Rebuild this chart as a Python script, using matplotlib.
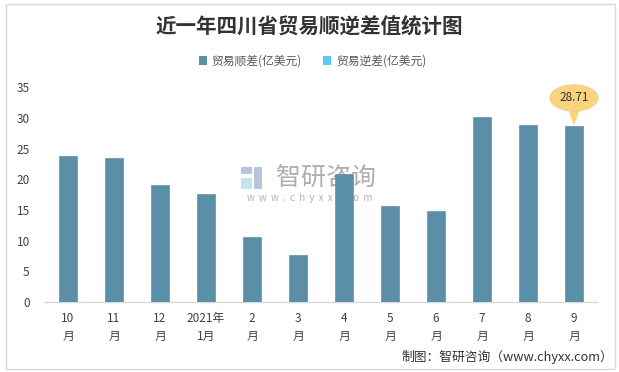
import matplotlib
matplotlib.use("Agg")
import matplotlib.pyplot as plt
from matplotlib.patches import Patch, Ellipse, Polygon, Rectangle

plt.rcParams['font.family'] = ['Noto Sans CJK SC', 'DejaVu Sans']

# data
months = ["10\n月", "11\n月", "12\n月", "2021年\n1月", "2\n月", "3\n月",
          "4\n月", "5\n月", "6\n月", "7\n月", "8\n月", "9\n月"]
surplus = [23.8, 23.5, 19.1, 17.6, 10.6, 7.7, 20.9, 15.7, 14.8, 30.2, 28.9, 28.71]
yticks = [0, 5, 10, 15, 20, 25, 30, 35]

bar_color = "#5B8FA8"
deficit_color = "#5DC9F5"

fig = plt.figure(figsize=(6.19, 3.72), dpi=100)
ax = fig.add_axes([0.0727, 0.188, 0.8918, 0.577])
ax.set_zorder(2)
ax.patch.set_alpha(0)

x = list(range(len(months)))
ax.bar(x, surplus, width=0.4, color=bar_color, edgecolor="#52849c",
       linewidth=0.4, zorder=3)

ax.set_xlim(-0.5, len(months) - 0.5)
ax.set_ylim(0, 35)
ax.set_yticks(yticks)
ax.set_xticks(x)
ax.set_xticklabels(months, linespacing=1.5)
ax.tick_params(axis="both", length=0, labelsize=8.5, colors="#404040")
ax.tick_params(axis="x", pad=7)
ax.tick_params(axis="y", pad=11)
for s in ["top", "right", "left"]:
    ax.spines[s].set_visible(False)
ax.spines["bottom"].set_color("#d9d9d9")
ax.spines["bottom"].set_linewidth(1)

# callout on the last bar
last = len(surplus) - 1
v = surplus[last]
ax.add_patch(Polygon([(last - 0.12, v + 2.6), (last + 0.12, v + 2.6), (last, v + 0.05)],
                     closed=True, facecolor="#F8D47E", edgecolor="none",
                     zorder=4, clip_on=False))
ax.add_patch(Ellipse((last, v + 4.57), 1.05, 4.3, facecolor="#F8D47E",
                     edgecolor="#f0c870", linewidth=0.5, zorder=4, clip_on=False))
ax.text(last, v + 4.57, "%.2f" % v, ha="center", va="center", fontsize=8.5,
        color="#333333", zorder=5)

# title
fig.text(0.5, 0.927, "近一年四川省贸易顺逆差值统计图", ha="center", va="center",
         fontsize=14.8, fontweight="bold", color="#333333")

# legend
handles = [Patch(facecolor=bar_color, label="贸易顺差(亿美元)"),
           Patch(facecolor=deficit_color, label="贸易逆差(亿美元)")]
fig.legend(handles=handles, loc="center", bbox_to_anchor=(0.505, 0.836), ncol=2,
           frameon=False, fontsize=8.5, handlelength=0.7, handleheight=0.7,
           handletextpad=0.4, columnspacing=1.8, labelcolor="#595959")

# watermark (behind the bars)
fig.text(0.527, 0.522, "智研咨询", ha="center", va="center", fontsize=18,
         color="#9a9a9a", alpha=0.8, zorder=0)
fig.text(0.500, 0.468, "w  w  w  .  c  h  y  x  x  .  c  o  m", ha="center", va="center",
         fontsize=7, color="#a8a8a8", alpha=0.9, zorder=0)
fig.patches.append(Rectangle((0.389, 0.532), 0.018, 0.018, transform=fig.transFigure,
                             facecolor="#b8c4dc", edgecolor="none", zorder=0))
fig.patches.append(Rectangle((0.389, 0.492), 0.018, 0.03, transform=fig.transFigure,
                             facecolor="#c9e2f2", edgecolor="none", zorder=0))
fig.patches.append(Rectangle((0.411, 0.492), 0.012, 0.058, transform=fig.transFigure,
                             facecolor="#b8c4dc", edgecolor="none", zorder=0))

# footer
fig.text(0.99, 0.04, "制图：智研咨询（www.chyxx.com）", ha="right", va="center",
         fontsize=9.2, color="#333333")

# outer frame
fig.patches.append(Rectangle((0.009, 0.008), 0.984, 0.981, transform=fig.transFigure,
                             facecolor="none", edgecolor="#d9d9d9", linewidth=1))

fig.savefig("out.png", dpi=100)
